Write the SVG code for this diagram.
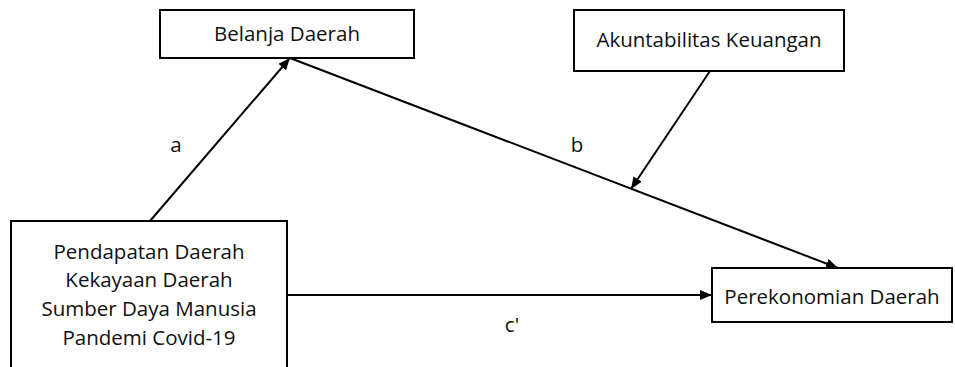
<svg xmlns="http://www.w3.org/2000/svg" width="955" height="367" viewBox="0 0 955 367">
<style>
.box{fill:#fff;stroke:#000;stroke-width:2}
.t{font-family:"Open Sans","Liberation Sans",sans-serif;font-size:20.5px;fill:#111;text-anchor:middle}
.c{stroke:#000;stroke-width:2;fill:none;marker-end:url(#ah)}
</style>
<defs>
<marker id="ah" viewBox="0 0 12 10" refX="12" refY="5" markerWidth="12" markerHeight="10" markerUnits="userSpaceOnUse" orient="auto">
<path d="M0,0 L12,5 L0,10 z" fill="#000"/>
</marker>
</defs>
<g id="n-belanja"><rect class="box" x="160" y="10" width="254" height="48"/><text class="t" x="287" y="41">Belanja Daerah</text></g>
<g id="n-akuntabilitas"><rect class="box" x="574" y="10" width="270" height="61"/><text class="t" x="709" y="47">Akuntabilitas Keuangan</text></g>
<g id="n-pendapatan"><rect class="box" x="11" y="221" width="276" height="160"/>
<text class="t" x="149" y="259">Pendapatan Daerah</text>
<text class="t" x="149" y="287">Kekayaan Daerah</text>
<text class="t" x="149" y="316">Sumber Daya Manusia</text>
<text class="t" x="149" y="345">Pandemi Covid-19</text></g>
<g id="n-perekonomian"><rect class="box" x="712" y="268" width="240" height="54"/><text class="t" x="832" y="304">Perekonomian Daerah</text></g>
<g id="connectors">
<line class="c" x1="150" y1="221" x2="290" y2="58"/>
<line class="c" x1="290" y1="58" x2="838" y2="268"/>
<line class="c" x1="710" y1="71" x2="631" y2="189"/>
<line class="c" x1="287" y1="295" x2="712" y2="295"/>
<text class="t" x="176" y="152">a</text>
<text class="t" x="577" y="152">b</text>
<text class="t" x="512" y="332">c'</text>
</g>
</svg>
